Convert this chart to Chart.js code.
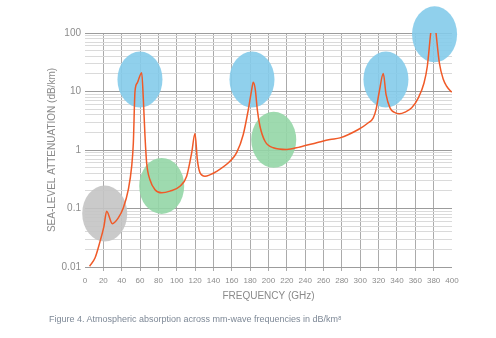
<!DOCTYPE html>
<html><head><meta charset="utf-8">
<script src="https://cdn.jsdelivr.net/npm/chart.js@4/dist/chart.umd.min.js"></script>
<style>
html,body{margin:0;padding:0;background:#fff;}
#wrap{position:relative;width:496px;height:338px;overflow:hidden;}
#caption{position:absolute;left:49px;top:313px;font:9px "Liberation Sans",Arial,sans-serif;color:#7d8896;white-space:nowrap;line-height:12px;}
#caption sup{font-size:5.5px;vertical-align:top;position:relative;top:-1px;}
</style></head><body>
<div id="wrap"><canvas id="c" width="496" height="338"></canvas>
<div id="caption">Figure 4. Atmospheric absorption across mm-wave frequencies in dB/km<sup>8</sup></div></div>
<script>
// ---- data ----
const frequencyGHz = [5, 11, 16, 20.7, 23.6, 29.8, 36.3, 41.8, 47.2, 50.9, 52.7, 54.5, 57, 61.8, 63.6, 65.4, 67.2, 70.8, 76.3, 83.6, 92.6, 103.5, 110.8, 116.3, 119.9, 122.4, 125.3, 130.8, 136, 143.5, 158, 165.3, 172.5, 178, 181.7, 183.4, 185.6, 187.8, 190.7, 196.2, 205.3, 219.8, 234.3, 252.5, 267, 277.9, 297.9, 308.8, 314.2, 317.2, 320.8, 325.1, 328.1, 332.4, 336.8, 342.6, 348.8, 356.1, 363.3, 369.5, 373.1, 376.8, 380, 382.6, 386.2, 390.6, 394.2, 399.7];
const attenuationDbPerKm = [0.0103, 0.0144, 0.026, 0.05, 0.09, 0.055, 0.069, 0.103, 0.21, 0.53, 1.33, 10.1, 14, 20.9, 7.3, 1.72, 0.6, 0.31, 0.21, 0.185, 0.198, 0.24, 0.356, 0.9, 1.91, 0.69, 0.41, 0.356, 0.375, 0.43, 0.64, 0.9, 1.84, 4.9, 10.8, 14.4, 10.8, 4.9, 2.55, 1.41, 1.09, 1.02, 1.13, 1.33, 1.51, 1.61, 2.24, 2.92, 3.55, 4.9, 10.1, 20.3, 8.9, 5.26, 4.43, 4.15, 4.43, 5.26, 7.8, 14, 27, 100, 250, 100, 31, 16, 12.3, 9.7];
const xTickValues = [0,20,40,60,80,100,120,140,160,180,200,220,240,260,280,300,320,340,360,380,400];
const yMajorTicks = [0.01, 0.1, 1, 10, 100];
const yTickLabels = ['0.01', '0.1', '1', '10', '100'];
const highlightFreqGHz = [59.9, 182, 328, 381, 83.6, 205.7, 21.5];
const highlightAttenuation = [16, 16, 16, 95, 0.243, 1.49, 0.082];
const highlightKind = ['peak', 'peak', 'peak', 'peak', 'window', 'window', 'low'];

// ---- styling ----
const KIND_COLOR = {peak: 'rgba(132,203,234,0.9)', window: 'rgba(148,214,166,0.9)', low: 'rgba(196,196,196,0.9)'};
const FONT = '"Liberation Sans", Arial, sans-serif';

const yTickValues = [];
yMajorTicks.forEach((d, i) => {
  if (i === yMajorTicks.length - 1) { yTickValues.push(d); return; }
  for (let k = 1; k <= 9; k++) yTickValues.push(+(d * k).toPrecision(3));
});

const ellipsePlugin = {
  id: 'highlights',
  beforeDatasetsDraw(chart) {
    const ctx = chart.ctx, xs = chart.scales.x, ys = chart.scales.y;
    ctx.save();
    highlightFreqGHz.forEach((f, i) => {
      const cx = xs.getPixelForValue(f), cy = ys.getPixelForValue(highlightAttenuation[i]);
      ctx.beginPath();
      ctx.ellipse(cx, cy, 22.5, 28, 0, 0, Math.PI * 2);
      ctx.fillStyle = KIND_COLOR[highlightKind[i]];
      ctx.fill();
    });
    ctx.restore();
  }
};

new Chart(document.getElementById('c'), {
  type: 'line',
  data: {
    datasets: [{
      data: frequencyGHz.map((f, i) => ({x: f, y: attenuationDbPerKm[i]})),
      borderColor: '#f05a28',
      borderWidth: 1.5,
      pointRadius: 0,
      cubicInterpolationMode: 'monotone',
      fill: false
    }]
  },
  options: {
    responsive: false,
    animation: false,
    devicePixelRatio: 1,
    layout: {padding: {left: 40, right: 44, top: 33, bottom: 36}},
    plugins: {legend: {display: false}, tooltip: {enabled: false}},
    scales: {
      x: {
        type: 'linear', min: 0, max: 400,
        afterBuildTicks: s => { s.ticks = xTickValues.map(v => ({value: v})); },
        afterFit: s => { s.height = 35; },
        border: {display: false},
        grid: {
          color: c => (c.tick && (c.tick.value === 0 || c.tick.value === 400)) ? 'rgba(0,0,0,0)' : '#ababab',
          lineWidth: 1, drawTicks: true, tickLength: 4
        },
        ticks: {autoSkip: false, maxRotation: 0, padding: 5, color: '#8c8c8c', font: {family: FONT, size: 8},
          callback: v => String(v)},
        title: {display: true, text: 'FREQUENCY (GHz)', color: '#8a8a8a', font: {family: FONT, size: 10}, padding: {top: 0, bottom: 0}}
      },
      y: {
        type: 'logarithmic', min: 0.01, max: 100,
        afterBuildTicks: s => { s.ticks = yTickValues.map(v => ({value: v})); },
        afterFit: s => { s.width = 45; },
        border: {display: false},
        grid: {
          color: c => (c.tick && yMajorTicks.includes(c.tick.value)) ? '#9c9c9c' : '#dadada',
          lineWidth: 1, drawTicks: false
        },
        ticks: {autoSkip: false, padding: 4, color: '#8c8c8c', font: {family: FONT, size: 10},
          callback: v => { const i = yMajorTicks.indexOf(v); return i >= 0 ? yTickLabels[i] : ''; }},
        title: {display: true, text: 'SEA-LEVEL ATTENUATION (dB/km)', color: '#8a8a8a', font: {family: FONT, size: 10}, padding: {top: 6, bottom: 0}}
      }
    }
  },
  plugins: [ellipsePlugin]
});
</script>
</body></html>
